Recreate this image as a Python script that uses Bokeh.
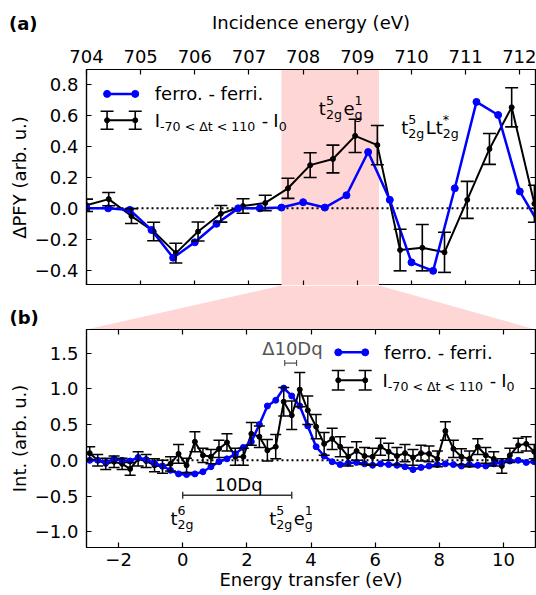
from bokeh.plotting import figure
from bokeh.layouts import column
from bokeh.models import (Range1d, LinearAxis, FixedTicker, CustomJSTickFormatter,
                          ColumnDataSource, Whisker, TeeHead, Span, BoxAnnotation, Label)
from bokeh.embed import file_html
from bokeh.resources import INLINE

# ---------------- data: panel (a) ----------------
pfy_ferro_x = [704.0, 704.4, 704.8, 705.2, 705.6, 706.0, 706.4, 706.8, 707.2, 707.6, 708.0,
               708.4, 708.8, 709.2, 709.6, 710.0, 710.4, 710.8, 711.2, 711.6, 712.0, 712.4]
pfy_ferro_y = [0.0, 0.0, -0.01, -0.14, -0.32, -0.22, -0.10, 0.0, 0.0, 0.005, 0.04,
               0.005, 0.085, 0.365, 0.055, -0.35, -0.405, 0.13, 0.69, 0.605, 0.11, -0.13]
pfy_time_x = [704.0, 704.41, 704.83, 705.24, 705.65, 706.06, 706.48, 706.89, 707.30, 707.72, 708.13,
              708.55, 708.96, 709.37, 709.79, 710.20, 710.61, 711.03, 711.44, 711.85, 712.27]
pfy_time_y = [0.02, 0.06, -0.05, -0.15, -0.29, -0.15, -0.035, 0.015, 0.035, 0.13, 0.28,
              0.32, 0.47, 0.41, -0.27, -0.255, -0.285, 0.055, 0.385, 0.655, 0.03]
pfy_time_err = [0.04, 0.043, 0.048, 0.06, 0.064, 0.062, 0.054, 0.047, 0.05, 0.065, 0.08,
                0.09, 0.108, 0.127, 0.135, 0.15, 0.13, 0.12, 0.1, 0.127, 0.12]
band = [707.6, 709.4]
a_xticks = [704, 705, 706, 707, 708, 709, 710, 711, 712]
a_yticks = [-0.4, -0.2, 0.0, 0.2, 0.4, 0.6, 0.8]

# ---------------- data: panel (b) ----------------
rixs_x = [-2.90, -2.65, -2.40, -2.14, -1.89, -1.64, -1.39, -1.14, -0.88, -0.63,
          -0.38, -0.13, 0.12, 0.38, 0.63, 0.88, 1.13, 1.38, 1.64, 1.89,
          2.14, 2.39, 2.64, 2.90, 3.15, 3.40, 3.65, 3.90, 4.16, 4.41,
          4.66, 4.91, 5.16, 5.42, 5.67, 5.92, 6.17, 6.42, 6.68, 6.93,
          7.18, 7.43, 7.68, 7.94, 8.19, 8.44, 8.69, 8.94, 9.20, 9.45,
          9.70, 9.95, 10.20, 10.46, 10.71, 10.96]
rixs_ferro_y = [0.00, 0.00, -0.03, 0.02, 0.00, -0.01, 0.04, 0.01, -0.04, -0.08,
                -0.14, -0.19, -0.20, -0.19, -0.16, -0.09, -0.02, 0.02, 0.09, 0.18,
                0.26, 0.50, 0.76, 0.84, 1.01, 0.90, 0.76, 0.48, 0.19, 0.06,
                -0.02, -0.06, -0.04, -0.03, -0.05, -0.07, -0.05, -0.06, -0.07, -0.09,
                -0.13, -0.10, -0.08, -0.06, -0.05, -0.06, -0.08, -0.06, -0.07, -0.08,
                -0.05, -0.03, -0.01, 0.00, -0.03, -0.02]
rixs_time_y = [0.10, 0.00, -0.05, -0.02, -0.05, -0.12, 0.02, -0.01, -0.07, -0.09,
               -0.05, 0.09, -0.07, 0.26, 0.07, 0.05, 0.16, 0.25, 0.05, 0.05,
               0.37, 0.33, 0.14, 0.19, 0.82, 0.63, 0.99, 0.70, 0.47, 0.23,
               0.30, 0.19, 0.05, 0.13, 0.06, 0.05, 0.19, 0.12, 0.06, 0.10,
               0.04, 0.10, 0.09, 0.02, 0.41, 0.16, 0.05, 0.02, 0.19, 0.07,
               0.02, -0.08, 0.07, 0.21, 0.23, 0.12]
rixs_time_err = [0.09, 0.08, 0.08, 0.08, 0.08, 0.09, 0.10, 0.09, 0.09, 0.09,
                 0.10, 0.13, 0.10, 0.14, 0.10, 0.10, 0.12, 0.12, 0.12, 0.12,
                 0.16, 0.15, 0.15, 0.17, 0.20, 0.20, 0.24, 0.20, 0.17, 0.16,
                 0.15, 0.14, 0.13, 0.13, 0.12, 0.12, 0.12, 0.12, 0.12, 0.12,
                 0.11, 0.11, 0.11, 0.11, 0.13, 0.12, 0.11, 0.11, 0.11, 0.11,
                 0.10, 0.10, 0.10, 0.10, 0.10, 0.10]
b_xticks = [-2, 0, 2, 4, 6, 8, 10]
b_yticks = [-1.0, -0.5, 0.0, 0.5, 1.0, 1.5]
tenDq_span = [0.0, 3.4]          # t2g^6 -> t2g^5 eg^1
delta_span = [3.18, 3.55]        # shift of peak

# ---------------- style / layout ----------------
FONT = "DejaVu Sans"
FS = 18
SMALL = 12.6
BLUE = "#0000ff"
PINK = "#ffd6d6"
W = 536
FRAME_L = 86
FRAME_R = 1
FRAME_W = W - FRAME_L - FRAME_R
BASELINE_FIX = 0.36     # alphabetic labels render ~0.36 em low; lift them

XR_A = Range1d(704.0, 712.29)
YR_A = Range1d(-0.5, 0.9)
XR_B = Range1d(-3.0, 11.0)
YR_B = Range1d(-1.22, 1.83)

CHAR_W = {'t': 0.392, 'e': 0.615, 'L': 0.557, 'g': 0.635, '*': 0.5, 'I': 0.295, '-': 0.361,
          ' ': 0.318, '<': 0.838, 'Δ': 0.684, 'D': 0.770, 'q': 0.635}


def tw(s, size):
    return sum(CHAR_W.get(c, 0.636) for c in s) * size


def new_fig(height, xr, yr, top, bottom, left=FRAME_L, right=FRAME_R, outline=True, align=True):
    p = figure(width=W, height=height, x_range=xr, y_range=yr,
               x_axis_type=None, y_axis_type=None,
               output_backend="svg", toolbar_location=None,
               min_border_left=left, min_border_right=right,
               min_border_top=top, min_border_bottom=bottom,
               frame_align=align)
    p.outline_line_color = "black" if outline else None
    p.outline_line_width = 1.2
    p.background_fill_color = "white"
    p.border_fill_color = "white"
    return p


def add_axis(p, side, ticks, code=None, title=None, label_standoff=7, title_standoff=8):
    ax = LinearAxis(ticker=FixedTicker(ticks=ticks, minor_ticks=[]))
    ax.major_tick_in = 5
    ax.major_tick_out = 0
    ax.minor_tick_in = 0
    ax.minor_tick_out = 0
    ax.major_tick_line_color = "black"
    ax.major_tick_line_width = 1.2
    ax.axis_line_color = "black"
    ax.axis_line_width = 1.2
    if code:
        ax.formatter = CustomJSTickFormatter(code=code)
        ax.major_label_text_font = FONT
        ax.major_label_text_font_size = f"{FS}px"
        ax.major_label_text_color = "black"
        ax.major_label_standoff = label_standoff
    else:
        ax.major_label_text_font_size = "0px"
        ax.major_label_text_alpha = 0
        ax.major_label_standoff = 0
    if title:
        ax.axis_label = title
        ax.axis_label_text_font = FONT
        ax.axis_label_text_font_size = f"{FS}px"
        ax.axis_label_text_font_style = "normal"
        ax.axis_label_text_color = "black"
        ax.axis_label_standoff = title_standoff
    p.add_layout(ax, side)
    return ax


def label(p, x, y, text, dx=0, dy=0, size=FS, color="black", align="left",
          baseline="alphabetic", style="normal"):
    if baseline == "alphabetic":
        dy += BASELINE_FIX * size
    p.add_layout(Label(x=x, y=y, x_offset=dx, y_offset=dy, text=text, text_font=FONT,
                       text_font_size=f"{size}px", text_color=color, text_align=align,
                       text_baseline=baseline, text_font_style=style))


def script_text(p, x, y, pieces, align="left", color="black", sup_dy=10, sub_dy=-4, pad=1.5):
    # pieces: (gap_before_px, base, sup, sub)
    def script_w(sup, sub):
        w = max(tw(sup, SMALL), tw(sub, SMALL))
        return w + pad if w else 0
    total = 0
    for gap, base, sup, sub in pieces:
        total += gap + tw(base, FS) + script_w(sup, sub)
    dx = -total / 2 if align == "center" else 0
    for gap, base, sup, sub in pieces:
        dx += gap
        if base:
            label(p, x, y, base, dx=dx, color=color)
            dx += tw(base, FS)
        if sup:
            label(p, x, y, sup, dx=dx, dy=sup_dy, size=SMALL, color=color)
        if sub:
            label(p, x, y, sub, dx=dx, dy=sub_dy, size=SMALL, color=color)
        dx += script_w(sup, sub)


def a_to_px(x):
    # horizontal position of an incidence energy inside the (shared) frame width
    return FRAME_L + (x - XR_A.start) / (XR_A.end - XR_A.start) * FRAME_W


INT_FMT = "return tick.toFixed(0).replace('-', '\u2212');"
ONE_FMT = "return tick.toFixed(1).replace('-', '\u2212');"

# ---------------- header: panel tag + top axis title ----------------
HEAD_H = 36
ph = new_fig(HEAD_H, Range1d(0, W), Range1d(0, HEAD_H), top=0, bottom=0, left=0, right=0,
             outline=False, align=False)
label(ph, 8.5, 6.5, "(a)", style="bold")
label(ph, FRAME_L + FRAME_W / 2, 7.5, "Incidence energy (eV)", align="center")

# ---------------- panel (a) ----------------
pa = new_fig(249, XR_A, YR_A, top=33, bottom=0)
add_axis(pa, "above", a_xticks, INT_FMT, None, label_standoff=7)
add_axis(pa, "below", a_xticks)
add_axis(pa, "left", a_yticks, ONE_FMT, "ΔPFY (arb. u.)", label_standoff=8, title_standoff=2)
add_axis(pa, "right", a_yticks)

pa.add_layout(BoxAnnotation(left=band[0], right=band[1], fill_color=PINK, fill_alpha=1.0,
                            line_color=None, level="underlay"))
pa.add_layout(Span(location=0, dimension="width", line_color="black", line_width=2,
                   line_dash="2 3", level="underlay"))

src_a = ColumnDataSource(dict(x=pfy_time_x, y=pfy_time_y,
                              lo=[v - e for v, e in zip(pfy_time_y, pfy_time_err)],
                              hi=[v + e for v, e in zip(pfy_time_y, pfy_time_err)]))
pa.add_layout(Whisker(source=src_a, base="x", upper="hi", lower="lo", line_color="black",
                      line_width=1.6, level="glyph",
                      upper_head=TeeHead(size=13, line_color="black", line_width=1.6),
                      lower_head=TeeHead(size=13, line_color="black", line_width=1.6)))
pa.line(pfy_time_x, pfy_time_y, line_color="black", line_width=2)
pa.scatter(pfy_time_x, pfy_time_y, size=5, color="black")
pa.line(pfy_ferro_x, pfy_ferro_y, line_color=BLUE, line_width=2.5)
pa.scatter(pfy_ferro_x, pfy_ferro_y, size=7, color=BLUE)

# legend (a)
LEG_A_X = [704.38, 704.9]
LEG_A_Y = [0.742, 0.571]
LEG_A_ERR = 0.058
LEG_A_TX = 705.26
pa.line(LEG_A_X, [LEG_A_Y[0]] * 2, line_color=BLUE, line_width=2.5)
pa.scatter(LEG_A_X, [LEG_A_Y[0]] * 2, size=7, color=BLUE)
label(pa, LEG_A_TX, LEG_A_Y[0], "ferro. - ferri.", baseline="middle")
src_la = ColumnDataSource(dict(x=LEG_A_X, lo=[LEG_A_Y[1] - LEG_A_ERR] * 2, hi=[LEG_A_Y[1] + LEG_A_ERR] * 2))
pa.add_layout(Whisker(source=src_la, base="x", upper="hi", lower="lo", line_color="black",
                      line_width=1.6, upper_head=TeeHead(size=13, line_color="black", line_width=1.6),
                      lower_head=TeeHead(size=13, line_color="black", line_width=1.6)))
pa.line(LEG_A_X, [LEG_A_Y[1]] * 2, line_color="black", line_width=2)
pa.scatter(LEG_A_X, [LEG_A_Y[1]] * 2, size=5, color="black")
LEG_PIECES = [(0, "I", "", "-70 < Δt < 110"), (5, "-", "", ""), (5, "I", "", "0")]
script_text(pa, LEG_A_TX, 0.526, LEG_PIECES)

# state labels (a)
script_text(pa, 708.29, 0.607, [(0, "t", "5", "2g"), (0, "e", "1", "g")])
script_text(pa, 709.81, 0.484, [(0, "t", "5", "2g"), (0, "L", "", ""), (0, "t", "*", "2g")])

# ---------------- connector (zoom wedge) + panel tag (b) ----------------
CONN_H = 44
pc = new_fig(CONN_H, Range1d(0, W), Range1d(0, CONN_H), top=0, bottom=0, left=0, right=0,
             outline=False, align=False)
pc.patch([a_to_px(band[0]), a_to_px(band[1]), FRAME_L + FRAME_W, FRAME_L],
         [CONN_H, CONN_H, 0, 0], color=PINK, line_color=None)
label(pc, 9, 5.5, "(b)", style="bold")

# ---------------- panel (b) ----------------
pb = new_fig(266, XR_B, YR_B, top=0, bottom=48)
add_axis(pb, "below", b_xticks, INT_FMT, "Energy transfer (eV)", label_standoff=5, title_standoff=0)
add_axis(pb, "above", b_xticks)
add_axis(pb, "left", b_yticks, ONE_FMT, "Int. (arb. u.)", label_standoff=8, title_standoff=2)
add_axis(pb, "right", b_yticks)

pb.add_layout(Span(location=0, dimension="width", line_color="black", line_width=2,
                   line_dash="2 3", level="underlay"))

src_b = ColumnDataSource(dict(x=rixs_x, y=rixs_time_y,
                              lo=[v - e for v, e in zip(rixs_time_y, rixs_time_err)],
                              hi=[v + e for v, e in zip(rixs_time_y, rixs_time_err)]))
pb.add_layout(Whisker(source=src_b, base="x", upper="hi", lower="lo", line_color="black",
                      line_width=1.5, level="glyph",
                      upper_head=TeeHead(size=11, line_color="black", line_width=1.5),
                      lower_head=TeeHead(size=11, line_color="black", line_width=1.5)))
pb.line(rixs_x, rixs_time_y, line_color="black", line_width=2)
pb.scatter(rixs_x, rixs_time_y, size=5, color="black")
pb.line(rixs_x, rixs_ferro_y, line_color=BLUE, line_width=2.5)
pb.scatter(rixs_x, rixs_ferro_y, size=6, color=BLUE)

# legend (b)
LEG_B_X = [4.85, 5.69]
LEG_B_Y = [1.51, 1.12]
LEG_B_ERR = 0.136
pb.line(LEG_B_X, [LEG_B_Y[0]] * 2, line_color=BLUE, line_width=2.5)
pb.scatter(LEG_B_X, [LEG_B_Y[0]] * 2, size=7, color=BLUE)
label(pb, 6.28, LEG_B_Y[0], "ferro. - ferri.", baseline="middle")
src_lb = ColumnDataSource(dict(x=LEG_B_X, lo=[LEG_B_Y[1] - LEG_B_ERR] * 2, hi=[LEG_B_Y[1] + LEG_B_ERR] * 2))
pb.add_layout(Whisker(source=src_lb, base="x", upper="hi", lower="lo", line_color="black",
                      line_width=1.6, upper_head=TeeHead(size=13, line_color="black", line_width=1.6),
                      lower_head=TeeHead(size=13, line_color="black", line_width=1.6)))
pb.line(LEG_B_X, [LEG_B_Y[1]] * 2, line_color="black", line_width=2)
pb.scatter(LEG_B_X, [LEG_B_Y[1]] * 2, size=5, color="black")
script_text(pb, 6.23, 1.02, LEG_PIECES)

# annotations (b)
GRAY = "#555555"
label(pb, 3.42, 1.468, "Δ10Dq", color=GRAY, align="center")
src_d = ColumnDataSource(dict(y=[1.36], lo=[delta_span[0]], hi=[delta_span[1]]))
pb.add_layout(Whisker(source=src_d, base="y", upper="hi", lower="lo", dimension="width",
                      line_color=GRAY, line_width=1.2,
                      upper_head=TeeHead(size=6, line_color=GRAY, line_width=1.2),
                      lower_head=TeeHead(size=6, line_color=GRAY, line_width=1.2)))
DARK = "#333333"
label(pb, 1.74, -0.43, "10Dq", align="center")
src_t = ColumnDataSource(dict(y=[-0.49], lo=[tenDq_span[0]], hi=[tenDq_span[1]]))
pb.add_layout(Whisker(source=src_t, base="y", upper="hi", lower="lo", dimension="width",
                      line_color=DARK, line_width=1.4,
                      upper_head=TeeHead(size=7, line_color=DARK, line_width=1.4),
                      lower_head=TeeHead(size=7, line_color=DARK, line_width=1.4)))
script_text(pb, tenDq_span[0], -0.905, [(0, "t", "6", "2g")], align="center")
script_text(pb, tenDq_span[1], -0.905, [(0, "t", "5", "2g"), (0, "e", "1", "g")], align="center")

layout = column(ph, pa, pc, pb, spacing=0)
open("out.html", "w").write(file_html(layout, INLINE))
